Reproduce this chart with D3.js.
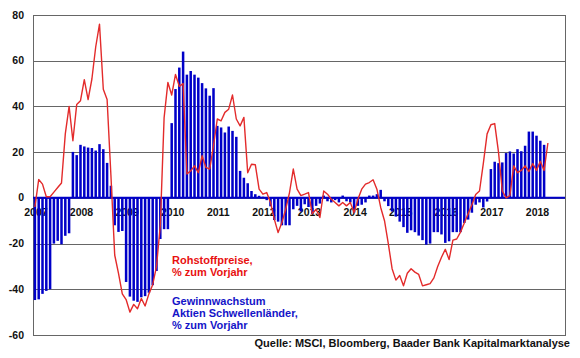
<!DOCTYPE html>
<html><head><meta charset="utf-8">
<script src="https://cdn.jsdelivr.net/npm/d3@7"></script>
<style>body{margin:0;background:#fff}svg{display:block}</style>
</head><body>
<svg id="c" width="580" height="358"></svg>
<script>
// Monthly categories Jan 2007 .. Aug 2018
const months = d3.timeMonth.range(new Date(2007,0,1), new Date(2018,8,1));
const yearLabels = ["2007","2008","2009","2010","2011","2012","2013","2014","2015","2016","2017","2018"];
const yTicks = [-60,-40,-20,0,20,40,60,80];

// Gewinnwachstum Aktien Schwellenländer, % zum Vorjahr (monthly, from Jan 2007)
const earnings = [
-44.7,-44.4,-42,-40.7,-40,-20,-18.8,-20.3,-16.6,-15.5,20.1,18.7,
23.2,22.5,22,21.8,20.7,23.5,21.3,15.3,5.3,-12,-14.9,-14.5,
-36.8,-43.2,-45,-45.5,-43.5,-43,-41.5,-38.2,-32,-18,-13.7,-13.7,
32.7,47.6,57,64,53.9,55.5,53.9,52.6,50.2,47.9,44.7,48,
31.5,30.8,28.6,31.2,29.3,26.7,11.8,8.8,6.4,3,1.6,0.9,
0.5,-1,-3.7,-9.7,-10.4,-12,-12,-12,-5,-3.5,-6,-2.8,
-4,-7,-3.5,-2.5,1,-1.5,-2,-1,-2,1,-1.5,-2,
-6.4,-3.5,-3,-2,1,1,1.6,3.5,-1.5,-3.6,-6,-8.2,
-10.4,-12.8,-15.3,-14.2,-15,-16.5,-18.5,-20.5,-20,-15,-15,-16,
-19.7,-19,-15,-15,-15,-11,-9.5,-6.5,-3,-2,-4.2,-1.6,
12.6,15.8,15.2,15.5,19.6,20.3,19.4,21.3,20.4,22.8,29,29,
27.2,25,23.2
];

// Rohstoffpreise, % zum Vorjahr (monthly, from Jan 2007)
const commodities = [
-4,8,6,0.5,0.5,2.5,4.5,6.5,28,40,25,40.8,
42.5,51.7,43,52,66,76,47.5,43,10,-25,-33,-42,
-44.5,-50,-46.6,-48.5,-44,-47.3,-42,-38,-30,-12,35,50.5,
45,54,48.8,50,10.4,11.8,14,11,18.4,13.3,12.6,22.8,
34.5,33.7,37.4,38.8,45,34.5,31.5,35.2,11,14.7,14.5,3.8,
1.6,2.3,-2,-9.3,-15.2,-10.8,-5,2.3,12.6,3.8,1,1.6,
2.3,-7,-5,-8.6,3,1.6,-0.6,-2,-3.5,-2,-3.5,-2,
-6.4,-0.6,3.8,6,6.7,7.9,3.8,-4.2,-10,-20,-31,-36,
-34,-38.5,-33,-31,-32.5,-33.5,-38.5,-38,-37.5,-35,-30,-26,
-22.5,-27,-18.5,-18,-15,-11,-7,-3,1.5,3,15,28,
32,32.5,20,3,0,1,14,11,12,14,11.5,15,
12,16,12,24
];

const legendRed = ["Rohstoffpreise,","% zum Vorjahr"];
const legendBlue = ["Gewinnwachstum","Aktien Schwellenländer,","% zum Vorjahr"];
const source = "Quelle: MSCI, Bloomberg, Baader Bank Kapitalmarktanalyse";

const L = 33, R = 565, T = 15, B = 335;
const FONT = "'Liberation Sans', Arial, sans-serif";
const svg = d3.select("#c");

const x = d3.scaleBand().domain(months.map((d,i)=>i)).range([L,R]).paddingInner(0.34).paddingOuter(0.17);
const cx = i => x(i) + x.bandwidth()/2;
const y = d3.scaleLinear().domain([-60,80]).range([B,T]);

// grid
svg.append("g").selectAll("line").data(yTicks).join("line")
  .attr("x1",L).attr("x2",R)
  .attr("y1",d=>Math.round(y(d))+0.5).attr("y2",d=>Math.round(y(d))+0.5)
  .attr("stroke","#666").attr("stroke-width",1);
svg.append("line").attr("x1",L+0.5).attr("x2",L+0.5).attr("y1",T).attr("y2",B+1).attr("stroke","#666");
svg.append("line").attr("x1",R+0.5).attr("x2",R+0.5).attr("y1",T).attr("y2",B+1).attr("stroke","#666");

// y axis labels
svg.append("g").selectAll("text").data(yTicks).join("text")
  .attr("x",24).attr("y",d=>y(d)+3.6).attr("text-anchor","end")
  .attr("font-family",FONT).attr("font-weight","bold").attr("font-size",10.5).attr("fill","#111")
  .text(d=>d);

// year labels
const janIdx = yearLabels.map(yl => months.findIndex(m => m.getFullYear()===+yl && m.getMonth()===0));
svg.append("g").selectAll("text").data(yearLabels).join("text")
  .attr("x",(d,k)=>cx(janIdx[k])+1).attr("y",215.5).attr("text-anchor","middle")
  .attr("font-family",FONT).attr("font-weight","bold").attr("font-size",10.5).attr("fill","#111")
  .text(d=>d);

// bars
svg.append("g").selectAll("rect").data(earnings).join("rect")
  .attr("x",(d,i)=>x(i)).attr("width",x.bandwidth())
  .attr("y",d=>y(Math.max(0,d))).attr("height",d=>Math.abs(y(d)-y(0)))
  .attr("fill","#0000c8");

// zero line
svg.append("line").attr("x1",L).attr("x2",R).attr("y1",y(0)).attr("y2",y(0))
  .attr("stroke","#0000c8").attr("stroke-width",2);

// red line
svg.append("path").datum(commodities)
  .attr("d",d3.line().x((d,i)=>cx(i)).y(d=>y(d)))
  .attr("fill","none").attr("stroke","#e32b2b").attr("stroke-width",1.4).attr("stroke-linejoin","round");

// legends
svg.append("g").selectAll("text").data(legendRed).join("text")
  .attr("x",172).attr("y",(d,i)=>264+i*12.2)
  .attr("font-family",FONT).attr("font-weight","bold").attr("font-size",11).attr("fill","#e81010")
  .text(d=>d);
svg.append("g").selectAll("text").data(legendBlue).join("text")
  .attr("x",172).attr("y",(d,i)=>305+i*12.2)
  .attr("font-family",FONT).attr("font-weight","bold").attr("font-size",11).attr("fill","#1414c8")
  .text(d=>d);

svg.append("text").attr("x",570).attr("y",347).attr("text-anchor","end")
  .attr("font-family",FONT).attr("font-weight","bold").attr("font-size",11).attr("fill","#111")
  .text(source);
</script>
</body></html>
